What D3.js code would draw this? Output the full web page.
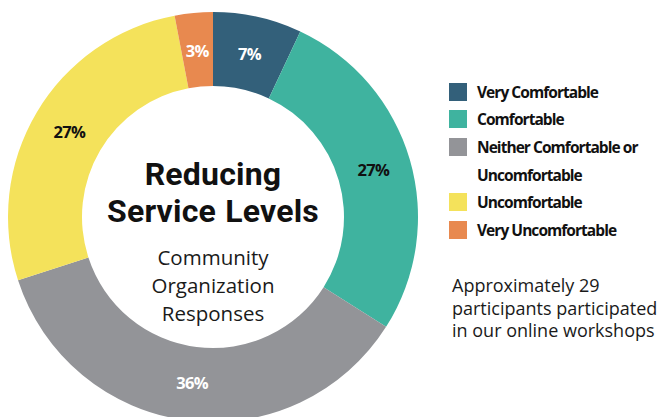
<!DOCTYPE html>
<html>
<head>
<meta charset="utf-8">
<script src="https://cdn.jsdelivr.net/npm/d3@7"></script>
<style>
  html, body { margin: 0; padding: 0; background: #fff; }
  svg { display: block; }
  text { font-family: "Open Sans", "Noto Sans", sans-serif; }
  text.title { font-family: Roboto, "Open Sans", sans-serif; }
</style>
</head>
<body>
<svg id="chart" width="662" height="417"></svg>
<script>
// Survey response shares, clockwise from 12 o'clock
const categories = ["Very Comfortable", "Comfortable", "Neither Comfortable or Uncomfortable", "Uncomfortable", "Very Uncomfortable"];
const values = [7, 27, 36, 27, 3];
const colors = ["#33607a", "#3fb39f", "#939498", "#f4e25b", "#e8894f"];
const labelColors = ["#ffffff", "#111111", "#ffffff", "#111111", "#ffffff"];
const legendLines = [["Very Comfortable"], ["Comfortable"], ["Neither Comfortable or", "Uncomfortable"], ["Uncomfortable"], ["Very Uncomfortable"]];
const titleLines = ["Reducing", "Service Levels"];
const subtitleLines = ["Community", "Organization", "Responses"];
const noteLines = ["Approximately 29", "participants participated", "in our online workshops"];

const svg = d3.select("#chart");
const cx = 213, cy = 217, outerR = 205, innerR = 131;

const data = categories.map((c, i) => ({ category: c, value: values[i], color: colors[i], labelColor: labelColors[i] }));

const pie = d3.pie().value(d => d.value).sort(null);
const arc = d3.arc().innerRadius(innerR).outerRadius(outerR);
const labelArc = d3.arc().innerRadius(130).outerRadius(204);

const g = svg.append("g").attr("transform", `translate(${cx},${cy})`);
const arcs = pie(data);

g.selectAll("path.slice")
  .data(arcs)
  .join("path")
  .attr("class", "slice")
  .attr("d", arc)
  .attr("fill", d => d.data.color);

g.selectAll("text.pct")
  .data(arcs)
  .join("text")
  .attr("class", "pct")
  .attr("transform", d => `translate(${labelArc.centroid(d)})`)
  .attr("text-anchor", "middle")
  .attr("dy", "0.36em")
  .attr("fill", d => d.data.labelColor)
  .style("font-size", "16.5px")
  .style("font-weight", 700)
  .style("letter-spacing", "-0.7px")
  .text(d => d.data.value + "%");

// Centre title
g.selectAll("text.title")
  .data(titleLines)
  .join("text")
  .attr("class", "title")
  .attr("x", 0)
  .attr("y", (d, i) => -32.5 + i * 37.5)
  .attr("text-anchor", "middle")
  .attr("fill", "#111")
  .style("font-size", "32px")
  .style("font-weight", 700)
  .style("letter-spacing", "0.2px")
  .style("word-spacing", "1px")
  .text(d => d);

g.append("text")
  .attr("class", "subtitle")
  .attr("text-anchor", "middle")
  .attr("fill", "#1a1a1a")
  .style("font-size", "20.5px")
  .style("font-weight", 400)
  .selectAll("tspan")
  .data(subtitleLines)
  .join("tspan")
  .attr("x", 0)
  .attr("y", (d, i) => 48 + i * 28)
  .text(d => d);

// Legend
const legendX = 449;
const rowTops = [83, 110, 138, 193, 221];
const legend = svg.append("g");
const rows = legend.selectAll("g.row")
  .data(data)
  .join("g")
  .attr("class", "row")
  .attr("transform", (d, i) => `translate(${legendX},${rowTops[i]})`);

rows.append("rect")
  .attr("width", 18)
  .attr("height", 18)
  .attr("fill", d => d.color);

rows.each(function (d, i) {
  d3.select(this).append("text")
    .attr("fill", "#111")
    .style("font-size", "15.5px")
    .style("font-weight", 700)
    .style("letter-spacing", "-0.95px")
    .selectAll("tspan")
    .data(legendLines[i])
    .join("tspan")
    .attr("x", 28)
    .attr("y", (t, j) => 15 + j * 27.5)
    .text(t => t);
});

// Participation note
svg.append("text")
  .attr("fill", "#1a1a1a")
  .style("font-size", "18px")
  .style("font-weight", 400)
  .selectAll("tspan")
  .data(noteLines)
  .join("tspan")
  .attr("x", 452)
  .attr("y", (d, i) => 292 + i * 22.5)
  .text(d => d);
</script>
</body>
</html>
